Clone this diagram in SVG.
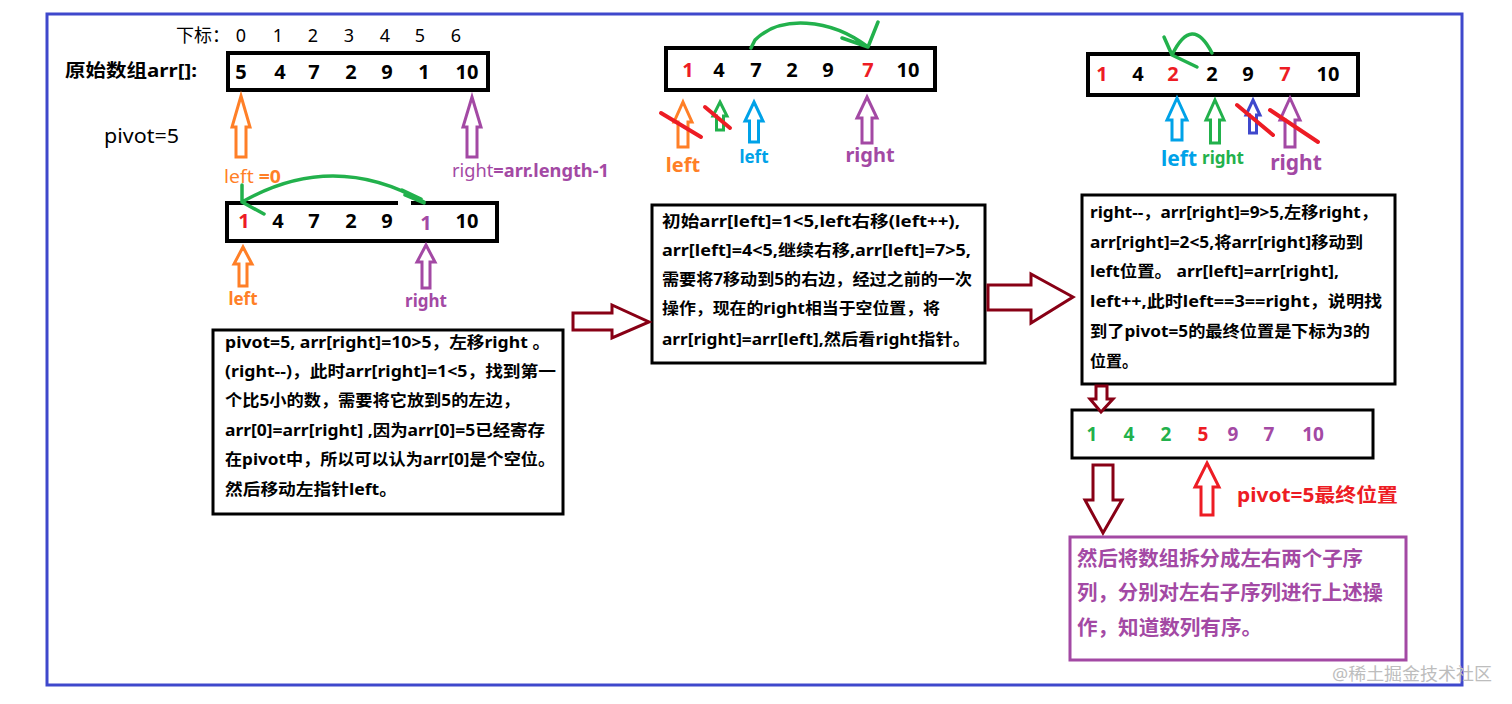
<svg xmlns="http://www.w3.org/2000/svg" width="1512" height="704" viewBox="0 0 1512 704">
<style>
text{font-family:"Noto Sans","Noto Sans CJK SC",sans-serif;}
.b{font-weight:bold;}
.num{font-weight:bold;font-size:20px;text-anchor:middle;}
.box{fill:#fff;stroke:#000;stroke-width:4;}
.tbox{fill:#fff;stroke:#000;stroke-width:3;}
.tl{font-weight:bold;font-size:16px;fill:#000;}
.hol{fill:#fff;stroke-width:3;stroke-linejoin:miter;}
.curve{fill:none;stroke:#22b14c;stroke-width:3.5;stroke-linecap:round;stroke-linejoin:round;}
.strike{stroke:#ed1c24;stroke-width:4;stroke-linecap:round;}
.o{fill:#ff7f27;}.p{fill:#a349a4;}.g{fill:#22b14c;}.r{fill:#ed1c24;}.bl{fill:#00a2e8;}
</style>
<rect x="0" y="0" width="1512" height="704" fill="#fff"/>
<rect id="frame" x="47" y="14" width="1415" height="671" fill="none" stroke="#3f48cc" stroke-width="3"/>

<g id="index-row">
<text x="176" y="42" font-size="18">下标：</text>
<g font-size="18" text-anchor="middle">
<text x="241" y="42">0</text><text x="278" y="42">1</text><text x="313" y="42">2</text><text x="349" y="42">3</text><text x="385" y="42">4</text><text x="420" y="42">5</text><text x="456" y="42">6</text>
</g>
</g>

<g id="array-original">
<text x="65" y="77" class="b" font-size="18" textLength="132" lengthAdjust="spacingAndGlyphs">原始数组arr[]:</text>
<rect class="box" x="228" y="53" width="260" height="37"/>
<text class="num" x="241" y="79">5</text><text class="num" x="280" y="79">4</text><text class="num" x="314" y="79">7</text><text class="num" x="351" y="79">2</text><text class="num" x="387" y="79">9</text><text class="num" x="424" y="79">1</text><text class="num" x="467" y="79">10</text>
</g>

<g id="pivot-label"><text x="104" y="143" font-size="19" textLength="75" lengthAdjust="spacingAndGlyphs">pivot=5</text></g>
<g id="left-label-0"><text x="224" y="183" font-size="18" class="o" textLength="57" lengthAdjust="spacingAndGlyphs">left <tspan class="b">=0</tspan></text></g>
<g id="right-label-0"><text x="452" y="177" font-size="18" class="p" textLength="157" lengthAdjust="spacingAndGlyphs">right<tspan class="b">=arr.length-1</tspan></text></g>

<g id="array-step1">
<rect class="box" x="227" y="203" width="270" height="38"/>
<rect x="398" y="199" width="13" height="7" fill="#fff"/>
<text class="num r" x="244" y="228">1</text><text class="num" x="278" y="228">4</text><text class="num" x="314" y="228">7</text><text class="num" x="351" y="228">2</text><text class="num" x="387" y="228">9</text><text class="num p" x="426" y="230">1</text><text class="num" x="467" y="228">10</text>
<text x="243" y="305" class="b o" font-size="17" text-anchor="middle">left</text>
<text x="426" y="307" class="b p" font-size="17" text-anchor="middle">right</text>
</g>

<g id="note1">
<rect class="tbox" x="213" y="330" width="350" height="184"/>
<text class="tl" x="225" y="348" textLength="325" lengthAdjust="spacingAndGlyphs">pivot=5, arr[right]=10&gt;5，左移right 。</text>
<text class="tl" x="225" y="377" textLength="331" lengthAdjust="spacingAndGlyphs">(right--)，此时arr[right]=1&lt;5，找到第一</text>
<text class="tl" x="225" y="406" textLength="295" lengthAdjust="spacingAndGlyphs">个比5小的数，需要将它放到5的左边，</text>
<text class="tl" x="225" y="436" textLength="320" lengthAdjust="spacingAndGlyphs">arr[0]=arr[right] ,因为arr[0]=5已经寄存</text>
<text class="tl" x="225" y="465" textLength="330" lengthAdjust="spacingAndGlyphs">在pivot中，所以可以认为arr[0]是个空位。</text>
<text class="tl" x="225" y="495" textLength="172" lengthAdjust="spacingAndGlyphs">然后移动左指针left。</text>
</g>

<g id="array-step2">
<rect class="box" x="666" y="48" width="269" height="42"/>
<text class="num r" x="688" y="77">1</text><text class="num" x="719" y="77">4</text><text class="num" x="756" y="77">7</text><text class="num" x="792" y="77">2</text><text class="num" x="828" y="77">9</text><text class="num r" x="868" y="77">7</text><text class="num" x="908" y="77">10</text>
<text x="683" y="172" class="b o" font-size="20" text-anchor="middle">left</text>
<text x="754" y="163" class="b bl" font-size="17" text-anchor="middle">left</text>
<text x="870" y="162" class="b p" font-size="20" text-anchor="middle">right</text>
</g>

<g id="note2">
<rect class="tbox" x="652" y="205" width="333" height="158"/>
<text class="tl" x="662" y="227" textLength="298" lengthAdjust="spacingAndGlyphs">初始arr[left]=1&lt;5,left右移(left++),</text>
<text class="tl" x="662" y="256" textLength="309" lengthAdjust="spacingAndGlyphs">arr[left]=4&lt;5,继续右移,arr[left]=7&gt;5,</text>
<text class="tl" x="662" y="285" textLength="310" lengthAdjust="spacingAndGlyphs">需要将7移动到5的右边，经过之前的一次</text>
<text class="tl" x="662" y="314" textLength="278" lengthAdjust="spacingAndGlyphs">操作，现在的right相当于空位置，将</text>
<text class="tl" x="662" y="345" textLength="308" lengthAdjust="spacingAndGlyphs">arr[right]=arr[left],然后看right指针。</text>
</g>

<g id="array-step3">
<rect class="box" x="1088" y="54" width="270" height="41"/>
<text class="num r" x="1102" y="81">1</text><text class="num" x="1138" y="81">4</text><text class="num r" x="1173" y="81">2</text><text class="num" x="1212" y="81">2</text><text class="num" x="1248" y="81">9</text><text class="num r" x="1285" y="81">7</text><text class="num" x="1328" y="81">10</text>
<text x="1179" y="166" class="b bl" font-size="21" text-anchor="middle">left</text>
<text x="1223" y="164" class="b g" font-size="17" text-anchor="middle">right</text>
<text x="1296" y="170" class="b p" font-size="21" text-anchor="middle">right</text>
</g>

<g id="note3">
<rect class="tbox" x="1082" y="195" width="313" height="189"/>
<text class="tl" x="1090" y="218" textLength="288" lengthAdjust="spacingAndGlyphs">right--，arr[right]=9&gt;5,左移right，</text>
<text class="tl" x="1090" y="248" textLength="273" lengthAdjust="spacingAndGlyphs">arr[right]=2&lt;5,将arr[right]移动到</text>
<text class="tl" x="1090" y="277" textLength="249" lengthAdjust="spacingAndGlyphs">left位置。 arr[left]=arr[right],</text>
<text class="tl" x="1090" y="307" textLength="292" lengthAdjust="spacingAndGlyphs">left++,此时left==3==right，说明找</text>
<text class="tl" x="1090" y="337" textLength="280" lengthAdjust="spacingAndGlyphs">到了pivot=5的最终位置是下标为3的</text>
<text class="tl" x="1090" y="367" textLength="48" lengthAdjust="spacingAndGlyphs">位置。</text>
</g>

<g id="array-final">
<rect class="tbox" x="1072" y="410" width="301" height="48"/>
<g font-size="19" font-weight="bold" text-anchor="middle">
<text class="g" x="1092" y="441">1</text><text class="g" x="1129" y="441">4</text><text class="g" x="1166" y="441">2</text><text class="r" x="1203" y="441">5</text><text class="p" x="1233" y="441">9</text><text class="p" x="1269" y="441">7</text><text class="p" x="1313" y="441">10</text>
</g>
</g>

<g id="pivot-final-label"><text x="1237" y="502" class="b r" font-size="19" textLength="161" lengthAdjust="spacingAndGlyphs">pivot=5最终位置</text></g>

<g id="note4">
<rect x="1070" y="537" width="336" height="123" fill="#fff" stroke="#a349a4" stroke-width="3"/>
<g class="b p" font-size="20">
<text x="1077" y="566" textLength="286" lengthAdjust="spacingAndGlyphs">然后将数组拆分成左右两个子序</text>
<text x="1077" y="600" textLength="306" lengthAdjust="spacingAndGlyphs">列，分别对左右子序列进行上述操</text>
<text x="1077" y="635" textLength="185" lengthAdjust="spacingAndGlyphs">作，知道数列有序。</text>
</g>
</g>

<g id="connectors">
<!-- pointer arrows -->
<path class="hol" stroke="#ff7f27" d="M241,96 L250,127 L246,127 L246,157 L236,157 L236,127 L232,127 Z"/>
<path class="hol" stroke="#a349a4" d="M472,97 L481,127 L477,127 L477,157 L467,157 L467,127 L463,127 Z"/>
<path class="hol" stroke="#ff7f27" d="M243,247 L252,264 L247,264 L247,286 L239,286 L239,264 L234,264 Z"/>
<path class="hol" stroke="#a349a4" d="M426,245 L435,262 L430,262 L430,288 L422,288 L422,262 L417,262 Z"/>

<path class="hol" stroke="#ff7f27" d="M683,102 L692,122 L688,122 L688,147 L678,147 L678,122 L674,122 Z"/>
<path class="hol" stroke="#22b14c" d="M720,102 L727,116 L723.5,116 L723.5,130 L716.5,130 L716.5,116 L713,116 Z"/>
<path class="hol" stroke="#00a2e8" d="M754,102 L763,121 L758.5,121 L758.5,142 L749.5,142 L749.5,121 L745,121 Z"/>
<path class="hol" stroke="#a349a4" d="M867,97 L877,118 L872,118 L872,143 L862,143 L862,118 L857,118 Z"/>
<line class="strike" x1="661" y1="113" x2="701" y2="137"/>
<line class="strike" x1="705" y1="107" x2="730" y2="128"/>

<path class="hol" stroke="#00a2e8" d="M1177,98 L1187,120 L1182,120 L1182,140 L1172,140 L1172,120 L1167,120 Z"/>
<path class="hol" stroke="#22b14c" d="M1215,100 L1224,120 L1219.5,120 L1219.5,143 L1210.5,143 L1210.5,120 L1206,120 Z"/>
<path class="hol" stroke="#3f48cc" d="M1253,100 L1260,115 L1256.5,115 L1256.5,133 L1249.5,133 L1249.5,115 L1246,115 Z"/>
<path class="hol" stroke="#a349a4" d="M1290,98 L1300,120 L1295,120 L1295,147 L1285,147 L1285,120 L1280,120 Z"/>
<line class="strike" x1="1237" y1="105" x2="1273" y2="135"/>
<line class="strike" x1="1270" y1="110" x2="1318" y2="142"/>

<path class="hol" stroke="#ed1c24" d="M1207,463 L1219,487 L1213,487 L1213,515 L1201,515 L1201,487 L1195,487 Z"/>

<!-- green swap curves -->
<path class="curve" d="M424,202 Q333,150 242,202 M242,185 L242,202 L264,214 M402,190 L421,199 M405,195 L424,203"/>
<path class="curve" d="M751,48 L755,40 C780,15 830,18 868,47 M842,38 L868,47 L878,22"/>
<path class="curve" d="M1212,53 Q1192,14 1172,55 M1164,37 L1172,55 L1197,67"/>

<!-- step arrows -->
<path class="hol" stroke="#880015" d="M573,313 L612,313 L612,305 L649,322 L612,338 L612,330 L573,330 Z"/>
<path class="hol" stroke="#880015" d="M988,285 L1031,285 L1031,274 L1073,297 L1031,323 L1031,310 L988,310 Z"/>
<path class="hol" stroke="#880015" d="M1096,386 L1107,386 L1107,399 L1113,399 L1101,412 L1090,399 L1096,399 Z"/>
<path class="hol" stroke="#880015" d="M1093,465 L1113,465 L1113,500 L1122,500 L1103,533 L1085,500 L1093,500 Z"/>
</g>

<g id="watermark"><text x="1332" y="680" font-size="17" fill="#bdbdbd" textLength="160" lengthAdjust="spacingAndGlyphs">@稀土掘金技术社区</text></g>
</svg>
